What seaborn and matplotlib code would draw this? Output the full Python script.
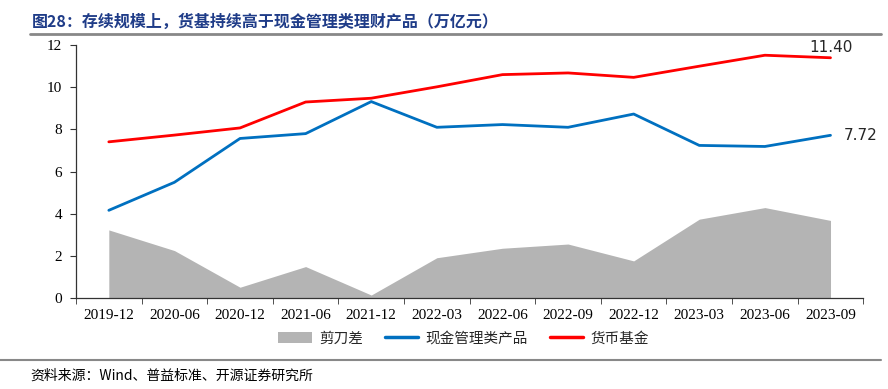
import numpy as np
import pandas as pd
import seaborn as sns
import matplotlib.pyplot as plt
from matplotlib.lines import Line2D
from matplotlib.patches import Patch

# data (万亿元)
dates = ["2019-12", "2020-06", "2020-12", "2021-06", "2021-12", "2022-03",
         "2022-06", "2022-09", "2022-12", "2023-03", "2023-06", "2023-09"]
money_fund = [7.41, 7.73, 8.07, 9.30, 9.48, 10.02, 10.60, 10.68, 10.47, 11.00, 11.52, 11.40]
cash_mgmt = [4.16, 5.49, 7.57, 7.80, 9.32, 8.10, 8.23, 8.10, 8.73, 7.24, 7.19, 7.72]
spread = [3.23, 2.25, 0.51, 1.49, 0.14, 1.91, 2.36, 2.56, 1.76, 3.74, 4.29, 3.68]

df = pd.DataFrame({"date": dates, "货币基金": money_fund,
                   "现金管理类产品": cash_mgmt, "剪刀差": spread})
df["pos"] = np.arange(len(dates))

sns.set_style("ticks")
plt.rcParams['font.family'] = ['Noto Sans CJK SC', 'DejaVu Sans']

fig = plt.figure(figsize=(8.88, 3.89), dpi=100)
ax = fig.add_axes([0.0856, 0.234, 0.8866, 0.650])

gray = "#B4B4B4"
blue = "#0070C0"
red = "#FF0000"

ax.fill_between(df["pos"], 0, df["剪刀差"], color=gray, linewidth=0)
sns.lineplot(data=df, x="pos", y="现金管理类产品", color=blue, linewidth=2, ax=ax)
sns.lineplot(data=df, x="pos", y="货币基金", color=red, linewidth=2, ax=ax)

ax.set_xlim(-0.5, len(dates) - 0.5)
ax.set_ylim(0, 12)
ax.set_yticks(range(0, 13, 2))
ax.set_xticks(df["pos"])
ax.set_xticklabels(dates)
ax.set_xticks(np.arange(-0.5, len(dates), 1.0), minor=True)
ax.tick_params(axis="x", which="major", length=0, pad=8)
ax.tick_params(axis="x", which="minor", length=4, color="#333333", direction="out")
ax.tick_params(axis="y", length=4, color="#333333", direction="out", pad=6)
for lab in ax.get_xticklabels() + ax.get_yticklabels():
    lab.set_family("Liberation Serif")
    lab.set_fontsize(11)
    lab.set_color("black")
ax.set_xlabel("")
ax.set_ylabel("")
for s in ["top", "right"]:
    ax.spines[s].set_visible(False)
for s in ["left", "bottom"]:
    ax.spines[s].set_color("#333333")
    ax.spines[s].set_linewidth(0.9)

# end value labels
ax.text(len(dates) - 1, money_fund[-1] + 0.12, f"{money_fund[-1]:.2f}",
        ha="center", va="bottom", fontsize=11, family="DejaVu Sans")
ax.text(len(dates) - 1 + 0.2, cash_mgmt[-1], f"{cash_mgmt[-1]:.2f}",
        ha="left", va="center", fontsize=11, family="DejaVu Sans")

handles = [Patch(facecolor=gray, edgecolor="none"),
           Line2D([0], [0], color=blue, linewidth=2.5),
           Line2D([0], [0], color=red, linewidth=2.5)]
fig.legend(handles, ["剪刀差", "现金管理类产品", "货币基金"], loc="center",
           bbox_to_anchor=(0.522, 0.13), ncol=3, frameon=False, fontsize=10.5,
           handlelength=2.3, handleheight=0.8, columnspacing=1.5, handletextpad=0.5)

# title and source
fig.text(0.036, 0.945, "图28：存续规模上，货基持续高于现金管理类理财产品（万亿元）",
         fontsize=11.5, fontweight="bold", color="#1F3C88", va="center")
fig.add_artist(Line2D([0.034, 0.992], [0.913, 0.913], color="#888888", linewidth=2))
fig.add_artist(Line2D([0.0, 0.992], [0.074, 0.074], color="#888888", linewidth=1.5))
fig.text(0.034, 0.035, "资料来源：Wind、普益标准、开源证券研究所",
         fontsize=10, color="black", va="center")

fig.savefig("out.png", dpi=100)
